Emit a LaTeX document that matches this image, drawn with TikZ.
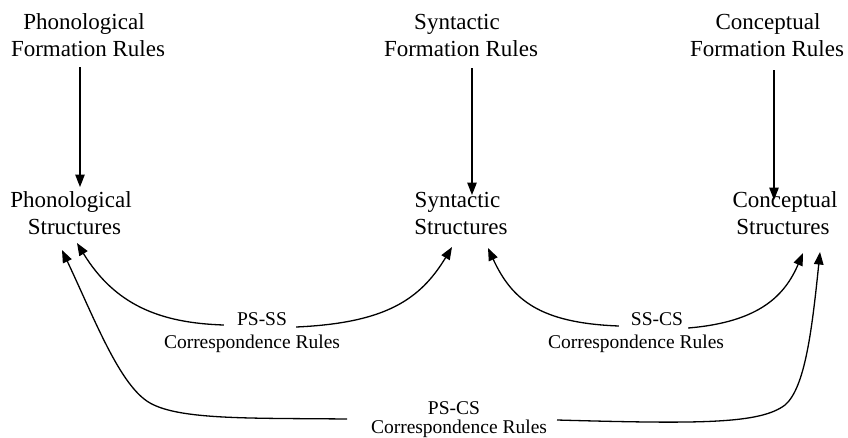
\documentclass[tikz,border=0pt]{standalone}
\usepackage{fontspec}
\setmainfont{Liberation Serif}
\usetikzlibrary{arrows.meta}
\begin{document}
\begin{tikzpicture}[x=1pt,y=-1pt,
  big/.style={inner sep=0pt,anchor=base,font=\fontsize{23}{27}\selectfont},
  small/.style={inner sep=0pt,anchor=base,font=\fontsize{19.5}{22}\selectfont},
  arr/.style={line width=1.3pt,-{Triangle[length=12.5pt,width=9.5pt]}}]
\useasboundingbox[fill=white] (0,0) rectangle (848,437);
% top: formation rules
\node[big] (pf1) at (84,29) {Phonological};
\node[big] (pf2) at (88,56) {Formation Rules};
\node[big] (sf1) at (457,29) {Syntactic};
\node[big] (sf2) at (461,56) {Formation Rules};
\node[big] (cf1) at (768,29) {Conceptual};
\node[big] (cf2) at (767,56) {Formation Rules};
% structures
\node[big] (ps1) at (71,207) {Phonological};
\node[big] (ps2) at (74.5,234) {Structures};
\node[big] (ss1) at (457.5,207) {Syntactic};
\node[big] (ss2) at (461,234) {Structures};
\node[big] (cs1) at (785,207) {Conceptual};
\node[big] (cs2) at (783,234) {Structures};
% correspondence labels
\node[small] (pss) at (262,325) {PS-SS};
\node[small] (pssC) at (252,348) {Correspondence Rules};
\node[small] (ssc) at (657,325) {SS-CS};
\node[small] (sscC) at (636,348) {Correspondence Rules};
\node[small] (psc) at (454,414) {PS-CS};
\node[small] (pscC) at (459,433) {Correspondence Rules};
% connector ends
\coordinate (pfA) at (80,67);   \coordinate (pfB) at (80,187);
\coordinate (sfA) at (472,68);  \coordinate (sfB) at (472,195);
\coordinate (cfA) at (774,70);  \coordinate (cfB) at (774,200);
\coordinate (tPSSl) at (77,243);
\coordinate (tPSSr) at (452,247);
\coordinate (tSSCl) at (488,248);
\coordinate (tSSCr) at (803,253);
\coordinate (tPSCl) at (62,250);
\coordinate (tPSCr) at (820,252);
\coordinate (pscL) at (347,419);
\coordinate (pscR) at (557,420);
% vertical arrows
\draw[arr] (pfA) -- (pfB);
\draw[arr] (sfA) -- (sfB);
\draw[arr] (cfA) -- (cfB);
% PS-SS
\draw[arr] ([xshift=-13pt]pss.base west) .. controls (160,323) and (115,305) .. (tPSSl);
\draw[arr] ([xshift=9pt,yshift=-2pt]pss.base east) .. controls (385,323) and (420,300) .. (tPSSr);
% SS-CS
\draw[arr] ([xshift=-12pt,yshift=-1pt]ssc.base west) .. controls (540,323) and (512,300) .. (tSSCl);
\draw[arr] ([xshift=5pt,yshift=-3pt]ssc.base east) .. controls (760,322) and (785,295) .. (tSSCr);
% PS-CS
\draw[arr] (pscL) .. controls (250,418) and (180,420) .. (150,403) .. controls (120,386) and (95,320) .. (tPSCl);
\draw[arr] (pscR) .. controls (700,424) and (760,424) .. (785,405) .. controls (805,388) and (812,330) .. (tPSCr);
\end{tikzpicture}
\end{document}
